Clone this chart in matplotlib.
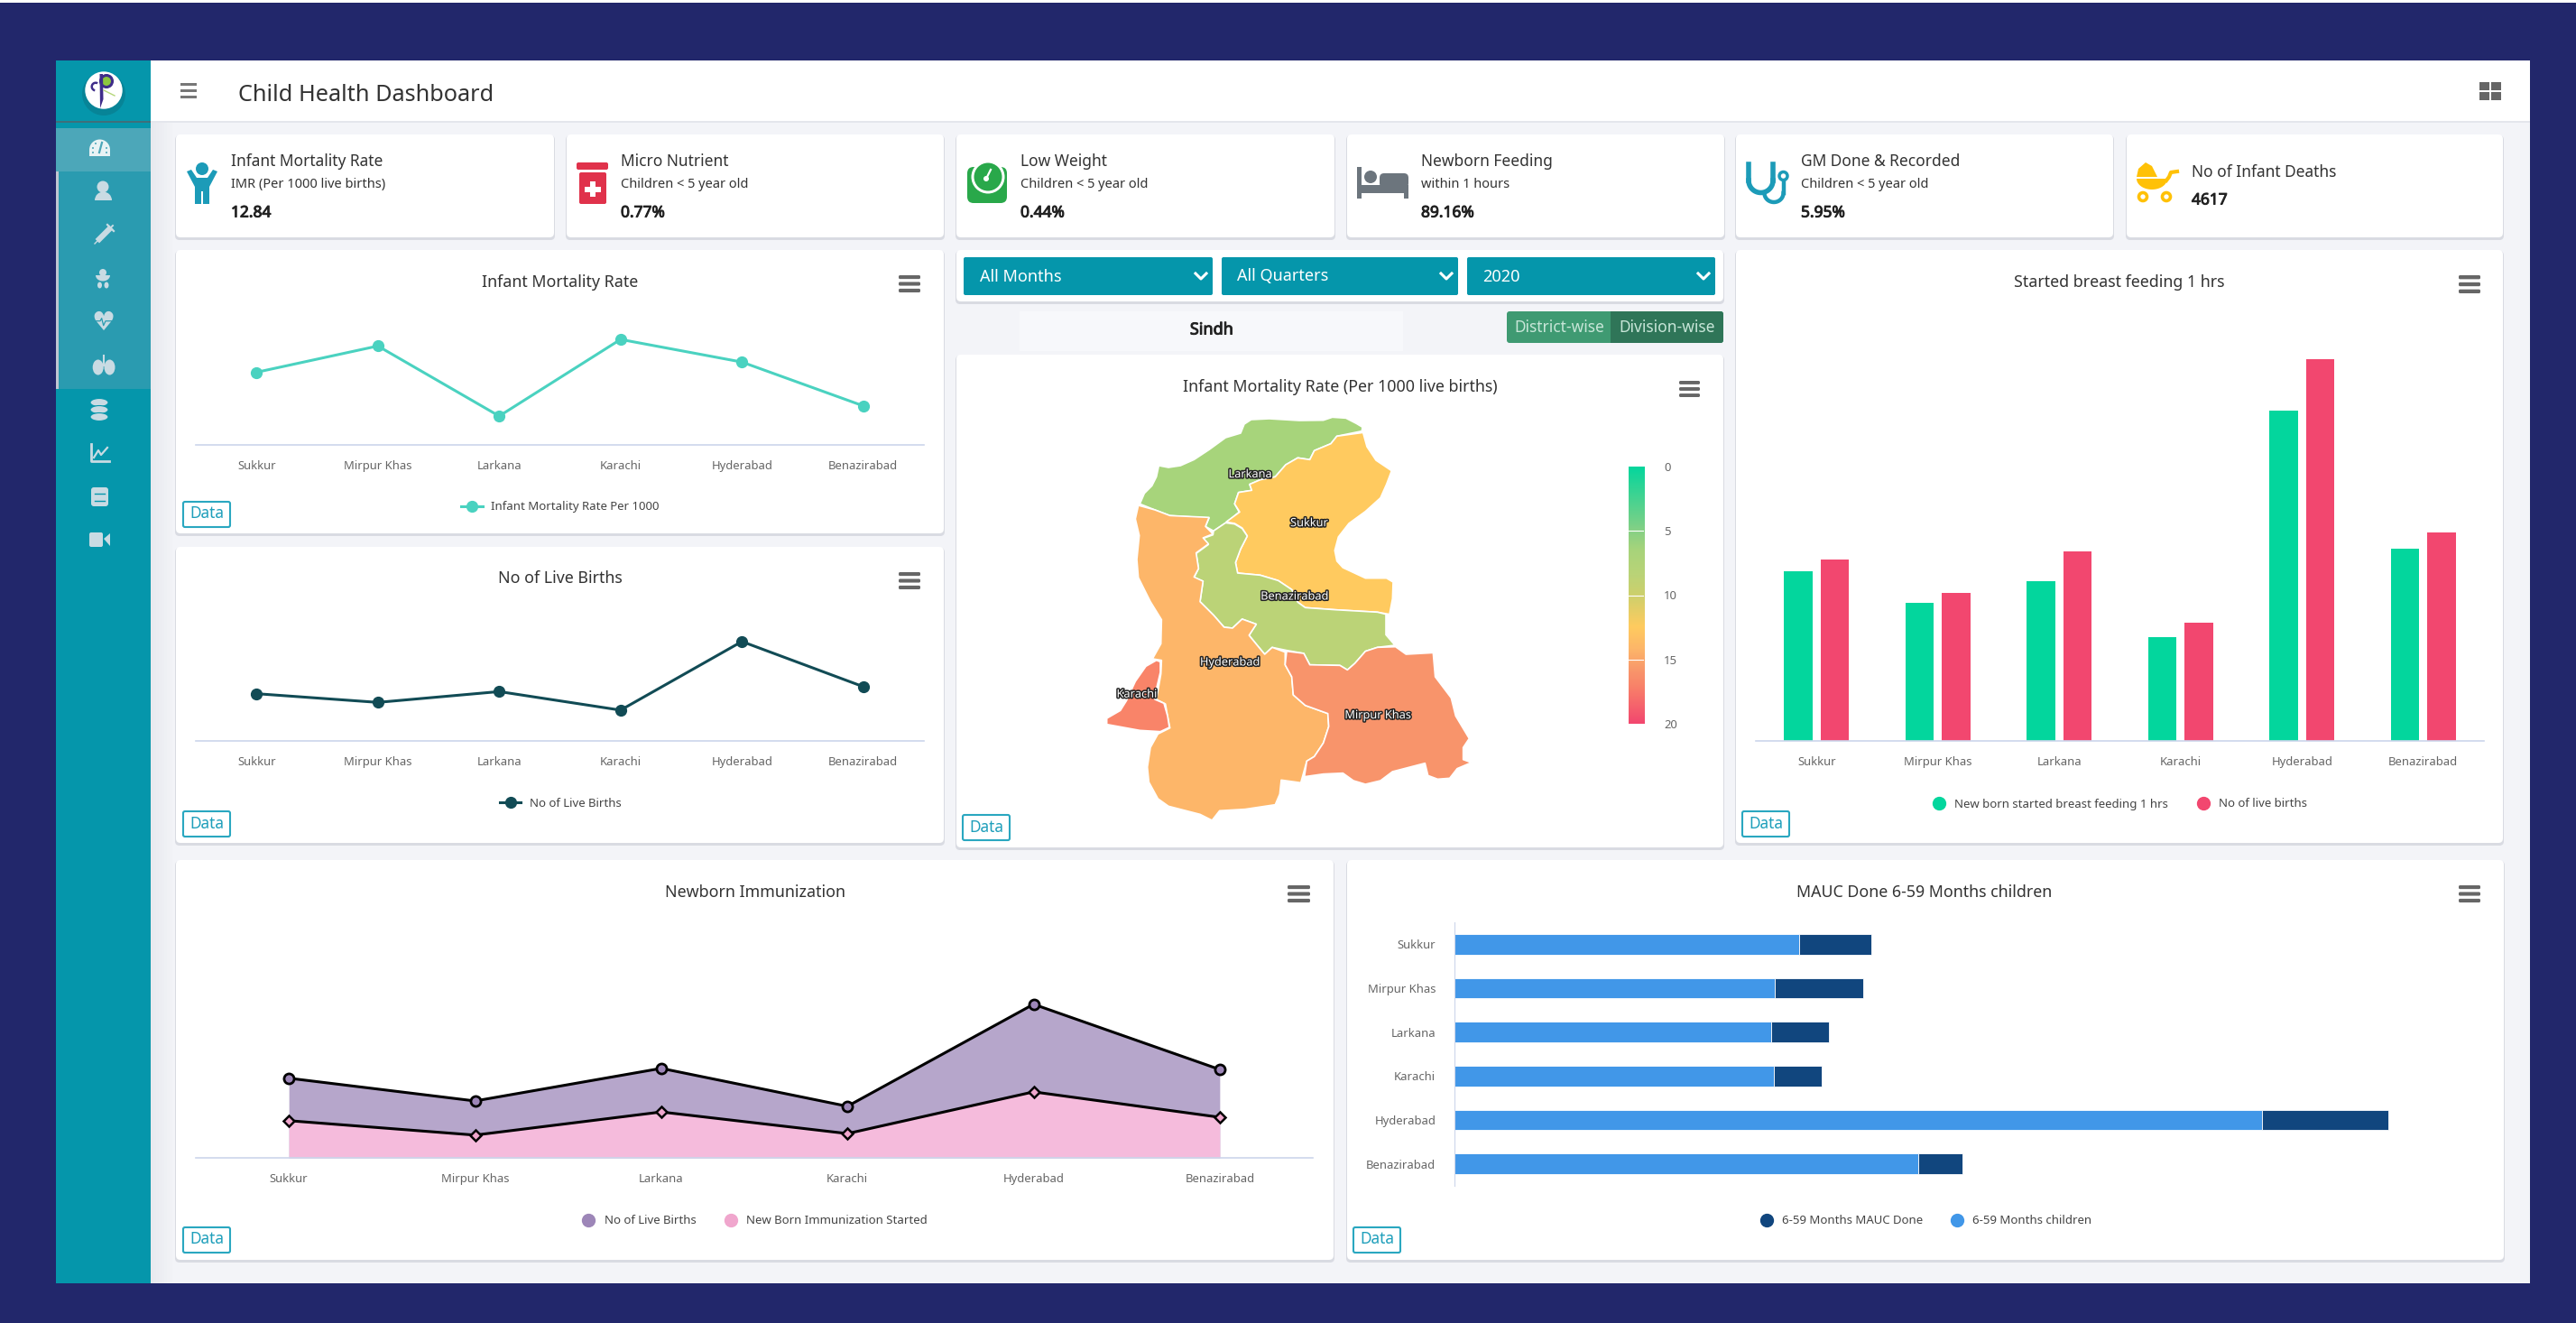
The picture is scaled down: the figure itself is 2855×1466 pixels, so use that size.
import matplotlib
matplotlib.use('Agg')
import matplotlib.pyplot as plt
import matplotlib.patheffects as pe
import numpy as np
from matplotlib.colors import LinearSegmentedColormap, Normalize
from matplotlib.lines import Line2D
from matplotlib.patches import Circle, Ellipse, FancyBboxPatch, Polygon, Rectangle, Wedge

plt.rcParams['font.family'] = ['Noto Sans', 'DejaVu Sans']

W, H = 2855, 1466

divisions = ['Sukkur', 'Mirpur Khas', 'Larkana', 'Karachi', 'Hyderabad', 'Benazirabad']
imr = [12.5, 16.1, 6.5, 17.0, 13.9, 7.9]
live_births = [201, 164, 210, 131, 423, 231]          # thousands
breastfed = [188, 153, 177, 115, 366, 213]
imm_births = [210, 150, 236, 136, 405, 233]
imm_started = [98, 60, 121, 64, 174, 107]
mauc_children = [382, 355, 351, 354, 895, 514]
mauc_done = [80, 98, 64, 53, 140, 49]

map_values = {'Sukkur': 12.5, 'Mirpur Khas': 16.0, 'Larkana': 6.5, 'Karachi': 17.0,
              'Hyderabad': 14.2, 'Benazirabad': 8.5}
scale_ticks = [0, 5, 10, 15, 20]
scale_stops = [(0, '#03d69d'), (5, '#85d085'), (6.5, '#a7d47b'), (8.5, '#bbd377'), (10, '#cdd06c'),
               (12.5, '#ffcb5f'), (14.2, '#fdb669'), (16, '#f8946b'), (17, '#f98469'), (20, '#f2476f')]

stat_titles = ['Infant Mortality Rate', 'Micro Nutrient', 'Low Weight', 'Newborn Feeding',
               'GM Done & Recorded', 'No of Infant Deaths']
stat_subs = ['IMR (Per 1000 live births)', 'Children < 5 year old', 'Children < 5 year old',
             'within 1 hours', 'Children < 5 year old', '']
stat_values = ['12.84', '0.77%', '0.44%', '89.16%', '5.95%', '4617']
filter_labels = ['All Months', 'All Quarters', '2020']

# district outlines (box of 1500 x 1500)
outlines = {
    'Larkana': [(250,385),(265,350),(290,325),(305,295),(313,258),(345,264),(385,258),(430,238),(480,205),
                (535,165),(585,150),(597,120),(620,105),(680,102),(780,108),(860,107),(890,97),(935,100),
                (970,118),(990,130),(988,143),(905,160),(885,185),(830,208),(815,238),(775,232),(735,255),
                (700,295),(650,305),(615,320),(622,340),(578,347),(565,385),(580,412),(540,445),(495,475),
                (468,460),(480,432),(350,424),(300,405)],
    'Sukkur': [(992,148),(1005,195),(1035,240),(1087,275),(1070,320),(1050,365),(1000,410),(945,450),
               (910,495),(898,540),(905,575),(925,597),(1000,632),(1070,632),(1092,645),(1090,700),
               (1080,752),(1040,745),(900,737),(800,730),(775,712),(755,670),(710,640),(650,622),(575,615),
               (568,580),(585,535),(607,492),(590,465),(565,450),(537,445),(582,412),(565,385),(578,347),
               (622,340),(615,320),(650,305),(700,295),(735,255),(775,232),(815,238),(830,208),(885,185),
               (905,160)],
    'Benazirabad': [(535,448),(565,452),(590,467),(607,492),(585,535),(568,580),(575,615),(650,622),(710,640),
                    (755,670),(775,712),(800,730),(900,737),(1040,745),(1068,752),(1068,820),(1098,855),
                    (1040,862),(1000,875),(965,915),(940,937),(915,922),(815,920),(795,882),(738,872),
                    (690,862),(665,885),(640,855),(613,822),(637,785),(590,768),(558,798),(530,795),
                    (495,755),(450,710),(460,642),(430,630),(445,600),(437,550),(478,520),(460,500),
                    (493,488),(495,475)],
    'Hyderabad': [(245,390),(300,405),(350,424),(480,430),(468,460),(493,485),(460,498),(478,518),(437,548),
                  (445,600),(430,628),(460,642),(450,710),(495,755),(530,795),(558,798),(590,768),(637,785),
                  (613,822),(640,855),(665,885),(690,862),(733,878),(733,920),(755,960),(760,1020),(800,1055),
                  (875,1082),(878,1125),(860,1180),(830,1225),(805,1240),(785,1312),(720,1303),(715,1350),
                  (700,1385),(600,1400),(515,1405),(490,1437),(450,1417),(345,1390),(310,1365),(280,1310),
                  (275,1260),(285,1195),(310,1150),(350,1130),(343,1095),(335,1050),(305,1035),(320,950),
                  (322,905),(292,900),(320,850),(322,770),(285,710),(245,630),(240,570),(248,490),(235,435)],
    'Karachi': [(305,905),(318,910),(318,945),(305,1000),(300,1035),(330,1048),(342,1090),(348,1128),(318,1142),
                (250,1138),(140,1118),(140,1098),(185,1072),(205,1040),(235,975),(270,925)],
    'Mirpur Khas': [(738,875),(795,882),(815,920),(915,922),(940,937),(965,915),(1000,875),(1040,862),
                    (1100,860),(1135,885),(1225,880),(1232,960),(1285,1030),(1300,1090),(1345,1165),
                    (1325,1195),(1325,1235),(1352,1245),(1305,1265),(1280,1297),(1240,1300),(1208,1288),
                    (1198,1247),(1090,1275),(1050,1305),(1000,1317),(960,1305),(925,1280),(860,1283),
                    (797,1292),(805,1240),(830,1225),(860,1180),(878,1125),(875,1082),(800,1055),(760,1020),
                    (755,960),(733,920)],
}
map_labels = {'Larkana': (617,287), 'Sukkur': (813,449), 'Benazirabad': (765,693),
              'Hyderabad': (550,912), 'Karachi': (240,1018), 'Mirpur Khas': (1042,1088)}

NAVY = '#22276b'
TEAL = '#0596ab'
BODY = '#f3f4f8'
AXIS = '#ccd6eb'
GREY = '#666666'

fig = plt.figure(figsize=(W / 100, H / 100), dpi=100, facecolor=NAVY)
bg = fig.add_axes([0, 0, 1, 1])
bg.set_xlim(0, W)
bg.set_ylim(H, 0)
bg.axis('off')


def put(x, y, s, size=11, color='#333333', bold=False, ha='left'):
    t = bg.text(x, y + 1.5, s, fontsize=size, color=color, ha=ha, va='center', zorder=6)
    if bold:  # the installed Noto Sans has no heavy cut here, thicken the strokes
        t.set_path_effects([pe.withStroke(linewidth=0.7, foreground=color)])
    return t


def rrect(x0, y0, x1, y1, color, r=5, z=2, **kw):
    p = FancyBboxPatch((x0 + r, y0 + r), x1 - x0 - 2 * r, y1 - y0 - 2 * r,
                       boxstyle=f'round,pad={r},rounding_size={r}', fc=color, ec='none', zorder=z, **kw)
    bg.add_patch(p)
    return p


def card(x0, y0, x1, y1):
    rrect(x0 - 1, y0 + 1, x1 + 1, y1 + 3, '#d9dbe2', z=1.7)
    rrect(x0, y0, x1, y1, 'white', z=2)


def menu_icon(x0, y0, x1, y1):
    h = (y1 - y0) / 4.6
    for k in range(3):
        top = y0 + k * (y1 - y0 - h) / 2
        rrect(x0, top, x1, top + h, GREY, r=1.5, z=3)


def data_button(x0, y0, x1, y1):
    bg.add_patch(FancyBboxPatch((x0 + 2, y0 + 2), x1 - x0 - 4, y1 - y0 - 4, boxstyle='round,pad=2,rounding_size=2',
                                fc='white', ec='#2aa7c0', lw=1.5, zorder=3))
    put((x0 + x1) / 2, (y0 + y1) / 2 - 2, 'Data', 12.5, '#1f9fbb', ha='center')


def chart_ax(x0, y0, x1, y1):
    ax = fig.add_axes([x0 / W, 1 - y1 / H, (x1 - x0) / W, (y1 - y0) / H])
    ax.patch.set_alpha(0)
    for s in ['top', 'right', 'left']:
        ax.spines[s].set_visible(False)
    ax.spines['bottom'].set_color(AXIS)
    ax.spines['bottom'].set_linewidth(1.2)
    ax.set_yticks([])
    ax.set_xticks(range(6))
    ax.set_xticklabels(divisions, fontsize=9.4, color=GREY)
    ax.tick_params(axis='x', length=0, pad=12)
    ax.set_xlim(-0.5, 5.5)
    return ax


def legend(ax, handles, cx, cy, hl=1.2):
    ax.legend(handles=handles, loc='center', bbox_to_anchor=(cx / W, 1 - cy / H), bbox_transform=fig.transFigure,
              ncol=len(handles), frameon=False, fontsize=9.5, labelcolor='#444444', handlelength=hl,
              handletextpad=0.7, columnspacing=2.3)


def dot(color, label):
    return Line2D([], [], ls='none', marker='o', ms=10, color=color, label=label)


# page frame
bg.add_patch(Rectangle((0, 0), W, 2.5, fc='white', zorder=1))
bg.add_patch(Rectangle((62, 67), 2742, 1355, fc=BODY, zorder=1))
bg.add_patch(Rectangle((167, 67), 2637, 67, fc='white', zorder=1.2))
bg.add_patch(Rectangle((167, 134), 2637, 2, fc='#e4e6ec', zorder=1.2))

# sidebar
bg.add_patch(Rectangle((62, 67), 105, 1355, fc=TEAL, zorder=1.3))
bg.add_patch(Rectangle((62, 190), 105, 241, fc='#2a9bb0', zorder=1.4))
bg.add_patch(Rectangle((62, 142), 105, 48, fc='#4ca7b9', zorder=1.4))
bg.add_patch(Rectangle((62, 190), 3, 241, fc='#c0c6d2', zorder=1.5))
bg.add_patch(Rectangle((62, 134), 105, 2, fc='#3f6f7a', zorder=1.5))
for k in range(8):
    bg.add_patch(Rectangle((167 + k * 3, 136), 3, 1286, fc='#8a8f9c', alpha=0.05 * (8 - k) / 4, lw=0, zorder=1.6))

# logo
bg.add_patch(Circle((115, 104), 24, fc='#0b6f80', alpha=0.45, zorder=2))
bg.add_patch(Circle((115, 100), 20.7, fc='white', zorder=3))
bg.add_patch(Circle((118, 90), 6.5, fc='#8cc63f', ec='#3f2d8a', lw=2.2, zorder=4))
bg.add_patch(Polygon([(110.5, 82), (114, 82), (114.5, 110), (111, 120)], fc='#3f2d8a', zorder=4))
bg.add_patch(Wedge((106, 96), 5.5, 100, 300, width=2.5, fc='#3f2d8a', zorder=4))
bg.plot([115, 127], [100, 106], color='#b5d77a', lw=1, zorder=4)

# sidebar icons
IC = '#c9dbe3'
bg.add_patch(Wedge((110.5, 166), 11.5, 180, 360, fc='#e8f3f5', zorder=4))
bg.add_patch(Rectangle((99, 166), 23, 7, fc='#e8f3f5', zorder=4))
bg.plot([110, 113], [169, 158], color='#4ca7b9', lw=1.6, zorder=5)
for dx, dy in [(103, 164), (106, 159), (118, 164), (103, 169), (118, 169)]:
    bg.add_patch(Circle((dx, dy), 1, fc='#4ca7b9', zorder=5))

bg.add_patch(Circle((114, 207), 6.5, fc=IC, zorder=4))
bg.add_patch(Wedge((114.5, 222), 9.5, 180, 360, fc=IC, zorder=4))

bg.plot([105, 111], [270, 264], color=IC, lw=1, zorder=4)
bg.plot([110, 121], [265, 254], color=IC, lw=4.5, zorder=4)
bg.plot([119, 126], [249, 256], color=IC, lw=1.6, zorder=4)
bg.plot([122, 125], [253, 250], color=IC, lw=1.4, zorder=4)

bg.add_patch(Circle((114, 302), 4, fc=IC, zorder=4))
t = np.linspace(0, np.pi, 20)
bg.add_patch(Polygon(np.c_[114 + 8 * np.cos(t), 305 + 6.5 * np.sin(t)], fc=IC, zorder=4))
bg.add_patch(Ellipse((110.5, 316), 5, 7, fc=IC, zorder=4))
bg.add_patch(Ellipse((118, 316), 5, 7, fc=IC, zorder=4))

bg.text(114.5, 358, '♥', fontsize=21, color=IC, ha='center', va='center', family='DejaVu Sans', zorder=4)
bg.plot([105.3, 111, 112.7, 114.7, 117, 124.7], [355.7, 355.7, 352.7, 360.7, 355.7, 355.7], color='#2a9bb0', lw=0.9, zorder=5)

bg.add_patch(Ellipse((108.7, 407), 12, 17, fc=IC, zorder=4))
bg.add_patch(Ellipse((121.5, 407), 12, 17, fc=IC, zorder=4))
bg.plot([114.5, 114.5], [394, 405], color=IC, lw=1.5, zorder=4)

for yy in [446, 454, 462]:
    bg.add_patch(Ellipse((110, yy), 20, 9, fc=IC, ec=TEAL, lw=0.8, zorder=4))
bg.plot([101, 101, 121], [492, 511, 511], color=IC, lw=2, zorder=4)
bg.plot([104, 109, 112, 119], [507, 499, 504, 496], color=IC, lw=1.6, zorder=4)
rrect(101, 540, 120, 561, IC, r=3, z=4)
bg.plot([105, 116], [547, 547], color=TEAL, lw=1, zorder=5)
bg.plot([105, 116], [555, 555], color=TEAL, lw=1, zorder=5)
rrect(99, 590, 114, 606, IC, r=2, z=4)
bg.add_patch(Polygon([(115, 597), (122, 591), (122, 605)], fc=IC, zorder=4))

# header
for yy in [93, 100, 107]:
    bg.add_patch(Rectangle((200, yy - 1.5), 18, 3, fc='#777777', zorder=3))
put(264, 104, 'Child Health Dashboard', 18.2, '#333333')
for gx in [2748, 2761]:
    for gy in [91, 102]:
        bg.add_patch(Rectangle((gx, gy), 10.5, 9, fc=GREY, zorder=3))

# stat cards
stat_x = [(195, 614, 256), (628, 1046, 688), (1060, 1479, 1131), (1493, 1911, 1575), (1924, 2342, 1996), (2357, 2774, 2429)]
for (x0, x1, tx), title, sub, val in zip(stat_x, stat_titles, stat_subs, stat_values):
    card(x0, 149, x1, 263)
    if sub:
        put(tx, 178, title, 12.5)
        put(tx, 203, sub, 10.5)
        put(tx, 234, val, 12.5, '#222222', True)
    else:
        put(tx, 190, title, 12.5)
        put(tx, 220, val, 12.5, '#222222', True)

# person
bg.add_patch(Circle((224, 187), 7, fc='#1c9bb8', zorder=4))
bg.add_patch(Polygon([(207, 190), (212, 188), (218, 197), (230, 197), (236, 188), (241, 190), (232, 207), (232, 226),
                      (225, 226), (225, 212), (223, 212), (223, 226), (216, 226), (216, 207)], fc='#1c9bb8', zorder=4))
# bottle
rrect(639, 180, 674, 188, '#e0324b', r=2, z=4)
rrect(642, 191, 672, 226, '#e0324b', r=2, z=4)
bg.add_patch(Rectangle((654, 201), 6, 17, fc='white', zorder=5))
bg.add_patch(Rectangle((648, 206.5), 18, 6, fc='white', zorder=5))
# scale
rrect(1072, 185, 1116, 225, '#29a84a', r=7, z=4)
bg.add_patch(Circle((1095, 196), 18.5, fc='white', zorder=5))
bg.add_patch(Circle((1095, 196), 15.5, fc='#29a84a', zorder=6))
bg.plot([1093, 1098], [198, 188], color='white', lw=1.6, zorder=7)
bg.add_patch(Circle((1093, 198), 3, fc='white', zorder=7))
# bed
bg.add_patch(Rectangle((1504, 185), 5, 35, fc='#6c757d', zorder=4))
bg.add_patch(Rectangle((1504, 205), 57, 9, fc='#6c757d', zorder=4))
bg.add_patch(Rectangle((1556, 205), 5, 15, fc='#6c757d', zorder=4))
bg.add_patch(Circle((1519, 196), 7, fc='#6c757d', zorder=4))
rrect(1529, 192, 1561, 208, '#6c757d', r=5, z=4)
# stethoscope
bg.plot([1938, 1938], [182, 200], color='#1c9bb8', lw=4, zorder=4)
bg.plot([1965, 1965], [182, 200], color='#1c9bb8', lw=4, zorder=4)
t = np.linspace(np.pi, 0, 30)
bg.plot(1951.5 + 13.5 * np.cos(t), 200 + 13.5 * np.sin(t), color='#1c9bb8', lw=4, zorder=4)
bg.plot(1966 + 10.5 * np.cos(t), 214 + 10 * np.sin(t), color='#1c9bb8', lw=3.2, zorder=4)
bg.plot([1976.5, 1976.5], [197, 214], color='#1c9bb8', lw=3.2, zorder=4)
bg.add_patch(Circle((1976.5, 195), 4.5, fc='white', ec='#1c9bb8', lw=2.5, zorder=5))
# stroller
t = np.linspace(0, np.pi, 24)
bg.add_patch(Polygon([(2368, 196), (2370, 187), (2378, 180), (2385, 184), (2391, 196)], fc='#ffc107', zorder=4))
bg.add_patch(Polygon(np.c_[2385 + 17 * np.cos(t), 198 + 12 * np.sin(t)], fc='#ffc107', zorder=4))
bg.plot([2401, 2404, 2406, 2413], [200, 196, 191, 190], color='#ffc107', lw=3, zorder=4)
bg.add_patch(Circle((2375, 218), 4.5, fc='white', ec='#ffc107', lw=2.6, zorder=5))
bg.add_patch(Circle((2401, 218), 4.5, fc='white', ec='#ffc107', lw=2.6, zorder=5))

# filter row
card(1060, 277, 1910, 334)
for (x0, x1, tx), label in zip([(1068, 1344, 1086), (1354, 1616, 1371), (1626, 1901, 1643)], filter_labels):
    rrect(x0, 285, x1, 327, TEAL, r=2, z=3)
    put(tx, 305, label, 13, 'white')
    bg.plot([x1 - 19, x1 - 13, x1 - 7], [303, 309, 303], color='white', lw=2.2, zorder=4)
bg.add_patch(Rectangle((1130, 345), 425, 44, fc='#f7f8fb', zorder=1.5))
put(1343, 364, 'Sindh', 13, '#222222', True, 'center')
rrect(1670, 345, 1910, 380, '#3f9a72', r=3, z=3)
rrect(1785, 345, 1910, 380, '#2f7558', r=3, z=3)
bg.add_patch(Rectangle((1785, 345), 6, 35, fc='#2f7558', zorder=3))
put(1728, 362, 'District-wise', 12.5, '#c8e6d8', ha='center')
put(1848, 362, 'Division-wise', 12.5, '#c8e6d8', ha='center')

# chart cards
card(195, 277, 1046, 591)
card(195, 606, 1046, 934)
card(1060, 393, 1910, 939)
card(1924, 277, 2774, 934)
card(195, 953, 1478, 1396)
card(1493, 953, 2775, 1396)
for cx, cy, s in [(621, 311, 'Infant Mortality Rate'), (621, 640, 'No of Live Births'),
                  (1485, 427, 'Infant Mortality Rate (Per 1000 live births)'),
                  (2349, 311, 'Started breast feeding 1 hrs'), (837, 987, 'Newborn Immunization'),
                  (2133, 987, 'MAUC Done 6-59 Months children')]:
    put(cx, cy, s, 12.8, ha='center')
for box in [(996, 305, 1020, 324), (996, 634, 1020, 653), (1861, 422, 1884, 440), (2725, 305, 2749, 325),
            (1427, 981, 1452, 1000), (2725, 981, 2749, 1000)]:
    menu_icon(*box)
for box in [(203, 556, 255, 584), (203, 899, 255, 927), (1067, 903, 1119, 931), (1931, 899, 1983, 927),
            (203, 1360, 255, 1388), (1500, 1360, 1552, 1388)]:
    data_button(*box)

# infant mortality line
ax1 = chart_ax(217, 330, 1024, 493)
ax1.plot(divisions, imr, color='#4ad2c0', lw=2.2, marker='o', ms=8.5)
ax1.set_xlim(-0.5, 5.5)
ax1.set_ylim(2.55, 22.7)
legend(ax1, [Line2D([], [], color='#4ad2c0', lw=2.2, marker='o', ms=8.5, label='Infant Mortality Rate Per 1000')], 621, 562, 1.8)

# live births line
ax2 = chart_ax(217, 670, 1024, 821)
ax2.plot(divisions, live_births, color='#114b55', lw=2.2, marker='o', ms=8.5)
ax2.set_xlim(-0.5, 5.5)
ax2.set_ylim(0, 580)
legend(ax2, [Line2D([], [], color='#114b55', lw=2.2, marker='o', ms=8.5, label='No of Live Births')], 621, 890, 1.8)

# breast feeding bars
ax3 = chart_ax(1946, 330, 2753, 821)
x = np.arange(6)
ax3.bar(x - 0.149, breastfed, width=0.234, color='#03d69d')
ax3.bar(x + 0.149, live_births, width=0.234, color='#f2476f')
ax3.set_xlim(-0.5, 5.5)
ax3.set_ylim(0, 491)
legend(ax3, [dot('#03d69d', 'New born started breast feeding 1 hrs'), dot('#f2476f', 'No of live births')], 2349, 891)

# newborn immunization areas
ax4 = chart_ax(217, 1030, 1455, 1283)
ax4.fill_between(x, imm_births, color='#b6a6cb', lw=0)
ax4.fill_between(x, imm_started, color='#f5bbdc', lw=0)
ax4.plot(x, imm_births, color='black', lw=2.2, marker='o', ms=8, mfc='#9d86b8', mec='black', mew=2)
ax4.plot(x, imm_started, color='black', lw=2.2, marker='D', ms=6.5, mfc='#f0a6cd', mec='black', mew=1.8)
ax4.set_xlim(-0.5, 5.5)
ax4.set_ylim(0, 602)
legend(ax4, [dot('#9d86b8', 'No of Live Births'), dot('#f0a6cd', 'New Born Immunization Started')], 836, 1353)

# MAUC stacked bars
ax5 = fig.add_axes([1612 / W, 1 - 1314 / H, 1138 / W, 292 / H])
ax5.patch.set_alpha(0)
y = np.arange(6)
ax5.barh(y, mauc_children, height=0.47, color='#4197e8', ec='white', lw=0.6)
ax5.barh(y, mauc_done, left=mauc_children, height=0.47, color='#11467e', ec='white', lw=0.6)
ax5.set_xlim(0, 1138)
ax5.set_ylim(5.5, -0.5)
ax5.set_xticks([])
ax5.set_yticks(y)
ax5.set_yticklabels(divisions, fontsize=9.4, color=GREY)
ax5.tick_params(axis='y', length=0, pad=15)
for s in ['top', 'right', 'bottom']:
    ax5.spines[s].set_visible(False)
ax5.spines['left'].set_color(AXIS)
legend(ax5, [dot('#11467e', '6-59 Months MAUC Done'), dot('#4197e8', '6-59 Months children')], 2134, 1353)

# choropleth
scale_cmap = LinearSegmentedColormap.from_list('imr', [(v / 20, c) for v, c in scale_stops])
norm = Normalize(0, 20)
mp = fig.add_axes([1180 / W, 1 - 930 / H, 500 / W, 500 / H])
mp.set_xlim(0, 1500)
mp.set_ylim(1500, 0)
mp.axis('off')
for name, pts in outlines.items():
    mp.add_patch(Polygon(pts, closed=True, fc=scale_cmap(norm(map_values[name])), ec='white', lw=1.2, joinstyle='round'))
for name, (lx, ly) in map_labels.items():
    mp.text(lx, ly, name, fontsize=9.2, color='white', ha='center', va='center',
            path_effects=[pe.withStroke(linewidth=2.2, foreground='#222222')])

# colour scale
cb = fig.add_axes([1805 / W, 1 - 802 / H, 17 / W, 285 / H])
cb.imshow(np.linspace(0, 20, 256).reshape(-1, 1), cmap=scale_cmap, norm=norm, aspect='auto', extent=[0, 1, 20, 0])
cb.set_xticks([])
cb.set_yticks(scale_ticks)
cb.yaxis.tick_right()
cb.tick_params(axis='y', length=0, pad=16, labelsize=9.4, labelcolor=GREY)
for s in cb.spines.values():
    s.set_visible(False)
for v in scale_ticks[1:-1]:
    cb.axhline(v, color='white', lw=0.8)

fig.savefig('out.png', dpi=100, facecolor=NAVY)
